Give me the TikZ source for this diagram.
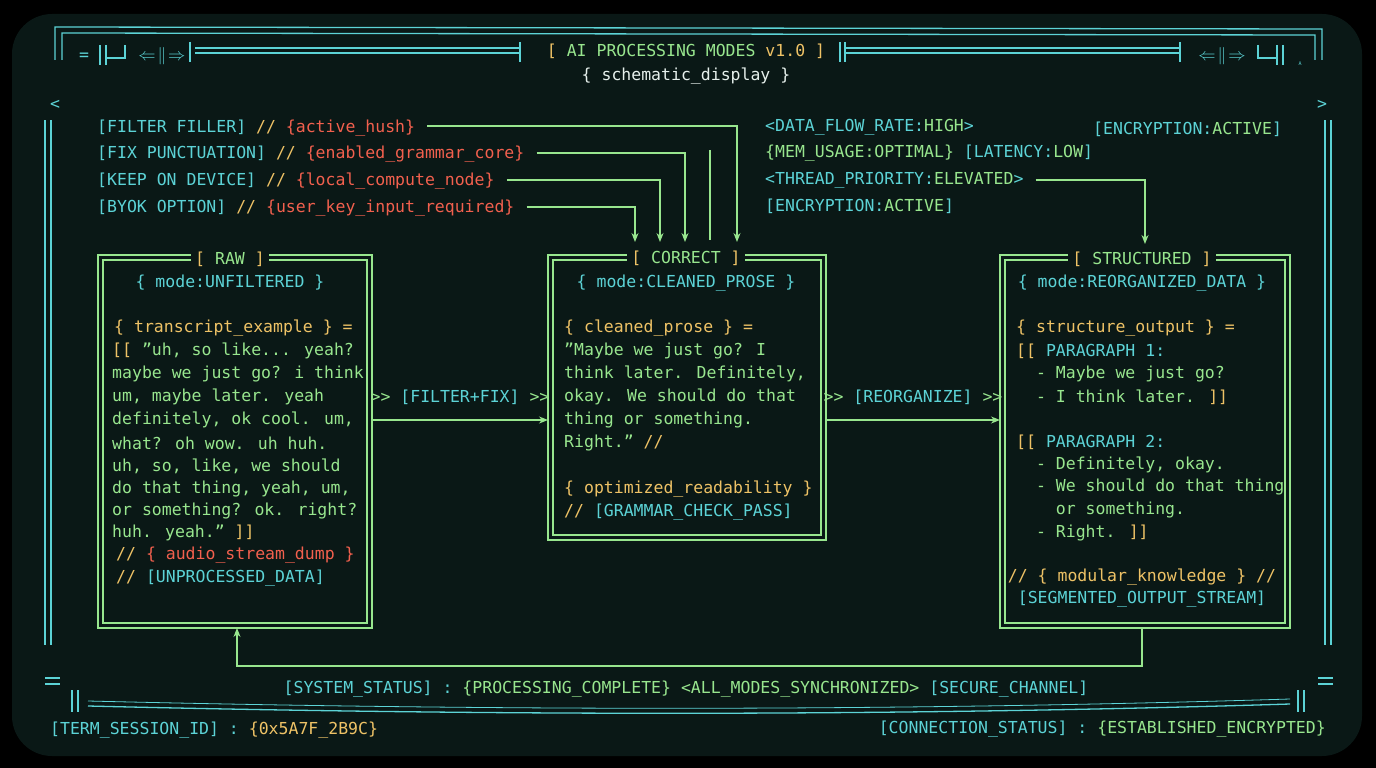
\documentclass[tikz,border=0pt]{standalone}
\usepackage{fontspec}
\setmainfont{DejaVu Sans Mono}
\usetikzlibrary{arrows.meta}
\definecolor{bgc}{HTML}{0A1816}
\definecolor{cyc}{HTML}{5CD3D6}
\definecolor{grc}{HTML}{98E68E}
\definecolor{ylc}{HTML}{EEC266}
\definecolor{rdc}{HTML}{F2604E}
\definecolor{wtc}{HTML}{E6F0EC}
\newcommand{\cC}[1]{\textcolor{cyc}{#1}}
\newcommand{\cG}[1]{\textcolor{grc}{#1}}
\newcommand{\cY}[1]{\textcolor{ylc}{#1}}
\newcommand{\cR}[1]{\textcolor{rdc}{#1}}
\newcommand{\qq}{\symbol{34}}
\newcommand{\dblgt}{>{}>}
\begin{document}
\begin{tikzpicture}[x=1pt,y=-1pt,
  t/.style={inner sep=0pt,anchor=west,font=\fontsize{16.5}{18}\selectfont,text=grc},
  tc/.style={t,anchor=center},
  frame/.style={draw=cyc,line width=1.3pt},
  boxl/.style={draw=grc,line width=1.4pt},
  ttl/.style={tc,fill=bgc,inner xsep=4pt,inner ysep=2pt},
  conn/.style={draw=grc,line width=1.3pt},
  arr/.style={conn,-{Stealth[length=9pt,width=7pt]}}]
\useasboundingbox (0,0) rectangle (1376,768);
\fill[black] (0,0) rectangle (1376,768);
\fill[bgc,rounded corners=40pt] (12,14) rectangle (1362,756);
% frame top
\draw[frame] (55,60) -- (55,27) -- (1322,29) -- (1322,60);
\draw[frame] (62,60) -- (62,33) -- (1315,35) -- (1315,60);
\draw[frame] (195,48) -- (520,48) (195,53) -- (520,53);
\draw[frame] (190,42)--(190,62) (520,42)--(520,62) (840,42)--(840,62) (845,42)--(845,62) (1180,42)--(1180,62);
\draw[frame] (845,48) -- (1180,48) (845,53) -- (1180,53);
\node[tc,text=cyc] at (162,56) {$\Leftarrow\!\|\!\Rightarrow$};
\node[tc,text=cyc] at (1222,56) {$\Leftarrow\!\|\!\Rightarrow$};
\node[tc,text=cyc] (hl) at (84,57) {=};
\draw[frame] (100,45)--(100,65) (106,45)--(106,65) (106,58)--(125,58)--(125,45);
\draw[frame] (1258,45)--(1258,58)--(1277,58) (1277,45)--(1277,65) (1283,45)--(1283,65);
\node[tc,text=cyc,font=\tiny] at (1300,64) {A};
\node[tc,text=cyc] at (55,105) {<};
\node[tc,text=cyc] at (1322,105) {>};
% frame sides
\draw[frame] (45,120)--(45,645) (51,120)--(51,645);
\draw[frame] (1325,120)--(1325,645) (1331,120)--(1331,645);
\draw[frame] (45,678)--(60,678) (45,684)--(60,684) (1318,678)--(1333,678) (1318,684)--(1333,684);
\draw[frame] (72,690)--(72,712) (78,690)--(78,712) (1298,690)--(1298,712) (1304,690)--(1304,712);
\draw[frame] (88,706) .. controls (500,716) and (900,716) .. (1290,704);
\draw[frame,line width=0.8pt] (88,701) .. controls (500,711) and (900,711) .. (1290,699);
% header
\node[tc] (h1) at (686,51) {\cY{[} AI PROCESSING MODES \cY{v1.0 ]}};
\node[tc,text=wtc] (h2) at (686,76) {\{ schematic\_display \}};
% boxes
\foreach \a/\b/\c/\d in {98/255/372/628,548/255/826/540,1000/255/1290/628}{
  \draw[boxl] (\a,\b) rectangle (\c,\d);
  \draw[boxl] (\a+5,\b+5) rectangle (\c-5,\d-5);
}
\node[ttl] (raw) at (230,259) {\cY{[} RAW \cY{]}};
\node[ttl] (cor) at (686,258) {\cY{[} CORRECT \cY{]}};
\node[ttl] (str) at (1142,259) {\cY{[} STRUCTURED \cY{]}};
\coordinate (rawb) at (237,628);
\coordinate (strb) at (1142,628);
\node[tc,text=cyc] at (230,283) {\{ mode:UNFILTERED \}};
\node[tc,text=cyc] at (686,283) {\{ mode:CLEANED\_PROSE \}};
\node[tc,text=cyc] at (1142,283) {\{ mode:REORGANIZED\_DATA \}};
% raw text
\node[t,text=ylc] at (114,328) {\{ transcript\_example \} =};
\node[t] at (112,351) {\cY{[[} \qq uh, so like... yeah?};
\node[t] at (112,374) {maybe we just go? i think};
\node[t] at (112,397) {um, maybe later. yeah};
\node[t] at (112,420) {definitely, ok cool. um,};
\node[t] at (112,443) {what? oh wow. uh huh.};
\node[t] at (112,466) {uh, so, like, we should};
\node[t] at (112,489) {do that thing, yeah, um,};
\node[t] at (112,511) {or something? ok. right?};
\node[t] at (112,533) {huh. yeah.\qq\ \cY{]]}};
\node[t,text=rdc] at (116,555) {\cY{//} \{ audio\_stream\_dump \}};
\node[t,text=cyc] at (116,578) {\cY{//} [UNPROCESSED\_DATA]};
% correct text
\node[t,text=ylc] at (564,328) {\{ cleaned\_prose \} =};
\node[t] at (564,351) {\qq Maybe we just go? I};
\node[t] at (564,374) {think later. Definitely,};
\node[t] at (564,397) {okay. We should do that};
\node[t] at (564,420) {thing or something.};
\node[t] at (564,443) {Right.\qq\ \cY{//}};
\node[t,text=ylc] at (564,489) {\{ optimized\_readability \}};
\node[t,text=cyc] at (564,512) {\cY{//} [GRAMMAR\_CHECK\_PASS]};
% structured text
\node[t,text=ylc] at (1016,328) {\{ structure\_output \} =};
\node[t,text=cyc] at (1016,351) {\cY{[[} PARAGRAPH 1:};
\node[t] at (1016,374) {\ \ - Maybe we just go?};
\node[t] at (1016,397) {\ \ - I think later. \cY{]]}};
\node[t,text=cyc] at (1016,442) {\cY{[[} PARAGRAPH 2:};
\node[t] at (1016,465) {\ \ - Definitely, okay.};
\node[t] at (1016,487) {\ \ - We should do that thing};
\node[t] at (1016,510) {\ \ \ \ or something.};
\node[t] at (1016,533) {\ \ - Right. \cY{]]}};
\node[tc,text=ylc] at (1142,577) {// \{ modular\_knowledge \} //};
\node[tc,text=cyc] at (1142,599) {[SEGMENTED\_OUTPUT\_STREAM]};
% mid arrows
\node[tc,text=cyc] at (460,397) {\cG{\dblgt} [FILTER+FIX] \cG{\dblgt}};
\node[tc,text=cyc] at (913,397) {\cG{\dblgt} [REORGANIZE] \cG{\dblgt}};
\draw[arr] (372,420) -- (548,420);
\draw[arr] (826,420) -- (1000,420);
% top-left labels
\node[t,text=cyc] (l1) at (97,128) {[FILTER FILLER] \cY{//} \cR{\{active\_hush\}}};
\node[t,text=cyc] (l2) at (97,154) {[FIX PUNCTUATION] \cY{//} \cR{\{enabled\_grammar\_core\}}};
\node[t,text=cyc] (l3) at (97,181) {[KEEP ON DEVICE] \cY{//} \cR{\{local\_compute\_node\}}};
\node[t,text=cyc] (l4) at (97,208) {[BYOK OPTION] \cY{//} \cR{\{user\_key\_input\_required\}}};
\draw[arr] (l1.east) ++(12,-2) -- (737,126) -- (737,242);
\draw[arr] (l2.east) ++(12,-1) -- (685,153) -- (685,242);
\draw[arr] (l3.east) ++(12,-1) -- (660,180) -- (660,242);
\draw[arr] (l4.east) ++(12,-1) -- (635,207) -- (635,242);
\draw[conn] (710,150) -- (710,240);
% top-right
\node[t,text=cyc] at (765,127) {<DATA\_FLOW\_RATE:\cG{HIGH}>};
\node[t,text=cyc] at (765,153) {\cG{\{MEM\_USAGE:OPTIMAL\}} [LATENCY:\cG{LOW}]};
\node[t,text=cyc] (tp) at (765,180) {<THREAD\_PRIORITY:\cG{ELEVATED}>};
\node[t,text=cyc] at (765,206) {[ENCRYPTION:\cG{ACTIVE}]};
\node[t,text=cyc] at (1093,129) {[ENCRYPTION:\cG{ACTIVE}]};
\draw[arr] (tp.east) ++(12,0) -- (1145,180) -- (1145,244);
% loop
\draw[arr] (strb) -- (1142,666) -- (237,666) -- (rawb);
\node[tc,text=cyc] at (686,689) {[SYSTEM\_STATUS] : \cG{\{PROCESSING\_COMPLETE\} <ALL\_MODES\_SYNCHRONIZED>} [SECURE\_CHANNEL]};
\node[t,text=cyc] at (50,730) {[TERM\_SESSION\_ID] : \cY{\{0x5A7F\_2B9C\}}};
\node[tc,text=cyc,anchor=east] at (1326,729) {[CONNECTION\_STATUS] : \cG{\{ESTABLISHED\_ENCRYPTED\}}};
\end{tikzpicture}
\end{document}
